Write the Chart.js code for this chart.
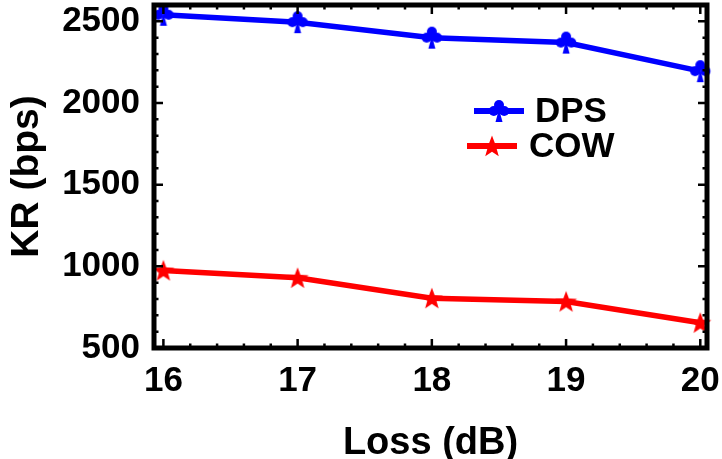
<!DOCTYPE html>
<html>
<head>
<meta charset="utf-8">
<script src="https://cdn.jsdelivr.net/npm/chart.js@4.4.1/dist/chart.umd.min.js"></script>
<style>
  html, body { margin: 0; padding: 0; background: #fff; }
  #wrap { width: 722px; height: 459px; }
</style>
</head>
<body>
<div id="wrap"><canvas id="krChart" width="722" height="459"></canvas></div>
<script>
// Data
const lossDb = [16, 17, 18, 19, 20];
const dpsKr = [2540, 2495, 2400, 2370, 2195];
const cowKr = [975, 930, 805, 785, 655];
const xTicks = [16, 17, 18, 19, 20];
const yTicks = [500, 1000, 1500, 2000, 2500];

const FONT = '"Liberation Sans", Arial, sans-serif';

// club marker for DPS
function makeClub(color) {
    const c = document.createElement('canvas');
    c.width = 24; c.height = 26;
    const g = c.getContext('2d');
    g.fillStyle = color;
    g.beginPath(); g.arc(12, 7, 5, 0, Math.PI * 2); g.fill();
    g.beginPath(); g.arc(6.8, 13, 5, 0, Math.PI * 2); g.fill();
    g.beginPath(); g.arc(17.2, 13, 5, 0, Math.PI * 2); g.fill();
    g.beginPath();
    g.moveTo(12, 11); g.lineTo(8.5, 24); g.lineTo(15.5, 24); g.closePath(); g.fill();
    return c;
}

// filled 5-point star for COW
function makeStar(color) {
    const c = document.createElement('canvas');
    c.width = 24; c.height = 24;
    const g = c.getContext('2d');
    g.fillStyle = color;
    g.beginPath();
    for (let i = 0; i < 10; i++) {
        const r = i % 2 === 0 ? 11.5 : 4.8;
        const a = -Math.PI / 2 + i * Math.PI / 5;
        const px = 12 + r * Math.cos(a), py = 13 + r * Math.sin(a);
        if (i === 0) g.moveTo(px, py); else g.lineTo(px, py);
    }
    g.closePath(); g.fill();
    return c;
}

const clubImg = makeClub('#0000ff');
const starImg = makeStar('#ff0000');

// frame, inward ticks and the legend inside the plot
const framePlugin = {
    id: 'frame',
    afterDraw(chart) {
        const { ctx, chartArea: a, scales } = chart;
        const xs = scales.x, ys = scales.y;
        ctx.save();
        ctx.strokeStyle = '#000';
        ctx.lineWidth = 2.5;
        ctx.beginPath();
        for (let v = 16; v <= 20.001; v += 0.2) {
            const px = xs.getPixelForValue(v);
            const major = Math.abs(v - Math.round(v)) < 0.01;
            const len = major ? 9 : 4.5;
            ctx.moveTo(px, a.bottom); ctx.lineTo(px, a.bottom - len);
            ctx.moveTo(px, a.top); ctx.lineTo(px, a.top + len);
        }
        for (let v = 500; v <= 2600; v += 100) {
            const py = ys.getPixelForValue(v);
            const major = v % 500 === 0;
            const len = major ? 9 : 4.5;
            ctx.moveTo(a.left, py); ctx.lineTo(a.left + len, py);
            ctx.moveTo(a.right, py); ctx.lineTo(a.right - len, py);
        }
        ctx.stroke();
        ctx.lineWidth = 5;
        ctx.strokeRect(a.left, a.top, a.right - a.left, a.bottom - a.top);

        // legend
        const items = [
            { label: 'DPS', color: '#0000ff', img: clubImg, x0: 474, x1: 524, y: 111, tx: 535 },
            { label: 'COW', color: '#ff0000', img: starImg, x0: 467, x1: 517, y: 146, tx: 529 }
        ];
        ctx.font = 'bold 35px ' + FONT;
        ctx.textBaseline = 'middle';
        ctx.fillStyle = '#000';
        items.forEach(it => {
            ctx.strokeStyle = it.color;
            ctx.lineWidth = 6;
            ctx.beginPath(); ctx.moveTo(it.x0, it.y); ctx.lineTo(it.x1, it.y); ctx.stroke();
            const mx = (it.x0 + it.x1) / 2;
            ctx.drawImage(it.img, mx - it.img.width / 2, it.y - it.img.height / 2);
            ctx.fillText(it.label, it.tx, it.y + 1);
        });
        ctx.restore();
    }
};

const ctx = document.getElementById('krChart').getContext('2d');
new Chart(ctx, {
    type: 'line',
    data: {
        datasets: [{
            label: 'DPS',
            data: lossDb.map((x, i) => ({ x: x, y: dpsKr[i] })),
            borderColor: '#0000ff',
            backgroundColor: '#0000ff',
            borderWidth: 5.5,
            pointStyle: clubImg,
            pointRadius: 10,
            tension: 0
        }, {
            label: 'COW',
            data: lossDb.map((x, i) => ({ x: x, y: cowKr[i] })),
            borderColor: '#ff0000',
            backgroundColor: '#ff0000',
            borderWidth: 5.5,
            pointStyle: starImg,
            pointRadius: 10,
            tension: 0
        }]
    },
    options: {
        responsive: false,
        animation: false,
        clip: false,
        layout: { autoPadding: false, padding: { top: 5, right: 15, left: 0, bottom: 0 } },
        scales: {
            x: {
                type: 'linear',
                min: 15.93,
                max: 20.05,
                afterBuildTicks: s => { s.ticks = xTicks.map(v => ({ value: v })); },
                afterFit: s => { s.height = 111; s.paddingLeft = 0; s.paddingRight = 0; },
                grid: { display: false, drawTicks: false },
                border: { display: false },
                ticks: {
                    color: '#000',
                    padding: 12,
                    font: { family: FONT, size: 35, weight: 'bold' }
                },
                title: {
                    display: true,
                    text: 'Loss (dB)',
                    color: '#000',
                    padding: { top: 6, bottom: -7 },
                    font: { family: FONT, size: 38, weight: 'bold' }
                }
            },
            y: {
                type: 'linear',
                min: 500,
                max: 2600,
                afterBuildTicks: s => { s.ticks = yTicks.map(v => ({ value: v })); },
                afterFit: s => { s.width = 154; s.paddingTop = 0; s.paddingBottom = 0; },
                grid: { display: false, drawTicks: false },
                border: { display: false },
                ticks: {
                    color: '#000',
                    padding: 14,
                    callback: v => String(v),
                    font: { family: FONT, size: 35, weight: 'bold' }
                },
                title: {
                    display: true,
                    text: 'KR (bps)',
                    color: '#000',
                    padding: { bottom: 4 },
                    font: { family: FONT, size: 39, weight: 'bold' }
                }
            }
        },
        plugins: {
            legend: { display: false },
            tooltip: { enabled: false }
        }
    },
    plugins: [framePlugin]
});
</script>
</body>
</html>
